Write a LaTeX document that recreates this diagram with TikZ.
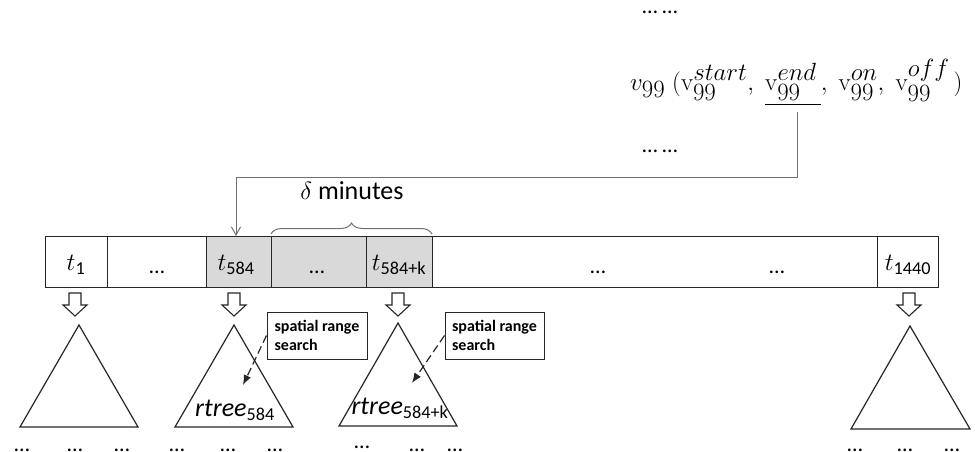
\documentclass[tikz,border=0pt]{standalone}
\usepackage{amsmath}
\usepackage[no-math]{fontspec}
\setmainfont{Carlito}
\usetikzlibrary{arrows.meta,decorations.pathreplacing}
\definecolor{cellgray}{HTML}{D9D9D9}
\definecolor{linegray}{HTML}{707070}
\begin{document}
\begin{tikzpicture}[x=1pt,y=-1pt,
  cell/.style={draw=black!85, line width=1pt, minimum height=51pt, inner sep=0pt, font=\fontsize{26}{30}\selectfont},
  graycell/.style={cell, fill=cellgray},
  dots/.style={inner sep=0pt, font=\fontsize{22}{26}\selectfont},
  tri/.style={draw=black!85, line width=1.2pt, line join=miter},
  searchbox/.style={draw=black!85, line width=1pt, minimum width=100pt, minimum height=47pt, inner sep=5pt, align=left, font=\fontsize{16}{19}\selectfont\bfseries},
  searcharrow/.style={draw=black!85, line width=1.2pt, dash pattern=on 8pt off 4pt, -{Latex[length=10pt,width=8pt]}},
  conn/.style={draw=linegray, line width=1pt, -{Straight Barb[length=8pt,width=9pt]}},
  bigtext/.style={inner sep=0pt, font=\fontsize{26}{30}\selectfont},
  harrow/.pic={\draw[draw=black!85, line width=1.1pt, line join=miter] (-6,0) -- (6,0) -- (6,12) -- (12,12) -- (0,23) -- (-12,12) -- (-6,12) -- cycle;}
]
\useasboundingbox (0,0) rectangle (975,452);

% top formula
\node[dots] (topdots) at (660,12) {\ldots\ \ldots};
\node[inner sep=0pt, anchor=base west, font=\fontsize{35}{40}\selectfont] (formula) at (630,90)
  {$v_{99}\;(\mathrm{v}_{99}^{start},\;\underline{\mathrm{v}_{99}^{end}\,},\;\mathrm{v}_{99}^{on},\;\mathrm{v}_{99}^{off}\,)$};
\node[dots] (middots) at (660,151) {\ldots\ \ldots};
\coordinate (uline) at (797,112);

% time bar
\node[cell, minimum width=62pt] (c1) at (76,261.5) {};
\node[cell, minimum width=99pt] (c2) at (156.5,261.5) {};
\node[graycell, minimum width=65pt] (c3) at (238.5,261.5) {};
\node[graycell, minimum width=95pt] (c4) at (318.5,261.5) {};
\node[graycell, minimum width=66pt] (c5) at (399,261.5) {};
\node[cell, minimum width=445pt] (c6) at (654.5,261.5) {};
\node[cell, minimum width=61pt] (c7) at (907.5,261.5) {};

\node[bigtext] (l1) at (76,265) {$t_{\text{1}}$};
\node[bigtext] (l3) at (236,265) {$t_{\text{584}}$};
\node[bigtext] (l5) at (399,265) {$t_{\text{584+k}}$};
\node[bigtext] (l7) at (908,265) {$t_{\text{1440}}$};
\node[dots] (d2) at (157,272) {\ldots};
\node[dots] (d4) at (317,272) {\ldots};
\node[dots] (d6a) at (598,272) {\ldots};
\node[dots] (d6b) at (777,272) {\ldots};

% connector from v99 end to t584
\coordinate (bend) at (797,177);
\coordinate (arrowend) at (236,236);
\draw[conn] (uline) -- (bend) -| (arrowend);

% brace
\coordinate (brL) at (271,234);
\coordinate (brR) at (432,234);
\draw[draw=linegray, line width=1pt, decorate, decoration={brace, amplitude=11pt}] (brL) -- (brR);
\node[bigtext] (delta) at (352,191) {$\delta$ minutes};

% hollow arrows
\pic at (75,293) {harrow};
\pic at (234,293) {harrow};
\pic at (398,293) {harrow};
\pic at (909,293) {harrow};

% triangles
\draw[tri] (79,325) -- (138,427) -- (20,427) -- cycle;
\draw[tri] (234,325) -- (293,427) -- (175,427) -- cycle;
\draw[tri] (398,323) -- (457,426) -- (339,426) -- cycle;
\draw[tri] (910,326) -- (970,429) -- (851,429) -- cycle;

\node[bigtext] (r1) at (235,410) {\itshape rtree$_{\text{\upshape 584}}$};
\node[bigtext] (r2) at (400,408) {\itshape rtree$_{\text{\upshape 584+k}}$};

% spatial range search boxes
\node[searchbox] (b1) at (317,335.5) {spatial range\\search};
\node[searchbox, minimum width=99pt] (b2) at (494.5,335.5) {spatial range\\search};
\coordinate (s1) at (243,385);
\coordinate (s2) at (412,383);
\draw[searcharrow] (b1.west) -- (s1);
\draw[searcharrow] (b2.west) -- (s2);

% dots below trees
\foreach \x/\y [count=\i] in {22/450,75/450,122/450,177/450,228/450,275/450,362/447,417/450,455/450,855/450,905/450,952/450}
  \node[dots] (bd\i) at (\x,\y) {\ldots};
\end{tikzpicture}
\end{document}
